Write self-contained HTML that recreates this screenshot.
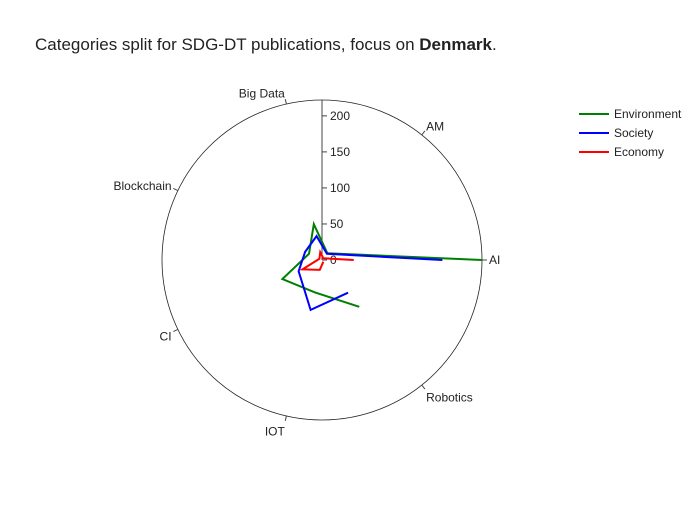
<!DOCTYPE html>
<html><head><meta charset="utf-8"><style>
body{margin:0;background:#fff;}
svg{font-family:"Liberation Sans",Arial,sans-serif;}
</style></head><body>
<svg id="chart" width="700" height="500">
<rect width="700" height="500" fill="#fff"/>
<text x="35" y="50" font-size="17" fill="#222">Categories split for SDG-DT publications, focus on <tspan font-weight="bold">Denmark</tspan>.</text>
<g id="plot"></g>
<g id="legend"></g>
</svg>
<script>
const categories = ["AI","AM","Big Data","Blockchain","CI","IOT","Robotics"];
const environment = [222,12,51,20,61,46,83];
const society = [167,11,34,26,36,71,58];
const economy = [44,3,11,4,30,14,3];
const radialTicks = [0,50,100,150,200];
const seriesNames = ["Environment","Society","Economy"];
const seriesColors = ["#008000","#0000ff","#ff0000"];

const NS="http://www.w3.org/2000/svg";
const cx=322, cy=260, R=160, rMax=222;
const plot=document.getElementById('plot');
function mk(tag,attrs,parent){const e=document.createElementNS(NS,tag);for(const k in attrs)e.setAttribute(k,attrs[k]);(parent||plot).appendChild(e);return e;}
function ang(i){return i*2*Math.PI/categories.length;}
function rs(v){return v/rMax*R;}
function pt(i,v){const a=ang(i),r=rs(v);return [cx+r*Math.cos(a), cy-r*Math.sin(a)];}

const circ=mk('circle',{cx:cx,cy:cy,r:R,fill:'none',stroke:'#222','stroke-width':0.8});



categories.forEach((c,i)=>{
  const a=ang(i),co=Math.cos(a),si=Math.sin(a);
  const t=mk('line',{x1:cx+R*co,y1:cy-R*si,x2:cx+(R+5)*co,y2:cy-(R+5)*si,stroke:'#444','stroke-width':1});
  
  
  const lx=cx+(R+7)*co, ly=cy-(R+8)*si+4-3*si+(si<0?-si*5:0);
  let anchor='middle'; if(co>0.1)anchor='start'; else if(co<-0.1)anchor='end';
  const tx=mk('text',{x:lx,y:ly,'font-size':12,fill:'#222','text-anchor':anchor});
  tx.textContent=c;
  
  
});

const ax=mk('line',{x1:cx,y1:cy,x2:cx,y2:cy-R,stroke:'#444','stroke-width':1});


radialTicks.forEach(v=>{
  const y=cy-rs(v);
  const l=mk('line',{x1:cx,y1:y,x2:cx+5,y2:y,stroke:'#444','stroke-width':1});
  
  
  const t=mk('text',{x:cx+8,y:y+4,'font-size':12,fill:'#222'});
  t.textContent=v;
  
  
});

[environment,society,economy].forEach((s,k)=>{
  const p=mk('polyline',{points:s.map((v,i)=>pt(i,v).join(',')).join(' '),fill:'none',stroke:seriesColors[k],'stroke-width':2});
  
  
});

const lg=document.getElementById('legend');
seriesNames.forEach((n,k)=>{
  const y=114+k*19;
  const l=mk('line',{x1:579,y1:y,x2:609,y2:y,stroke:seriesColors[k],'stroke-width':2},lg);
  
  
  const t=mk('text',{x:614,y:y+4,'font-size':12,fill:'#222'},lg);
  t.textContent=n;
  
  
});
</script>
</body></html>
